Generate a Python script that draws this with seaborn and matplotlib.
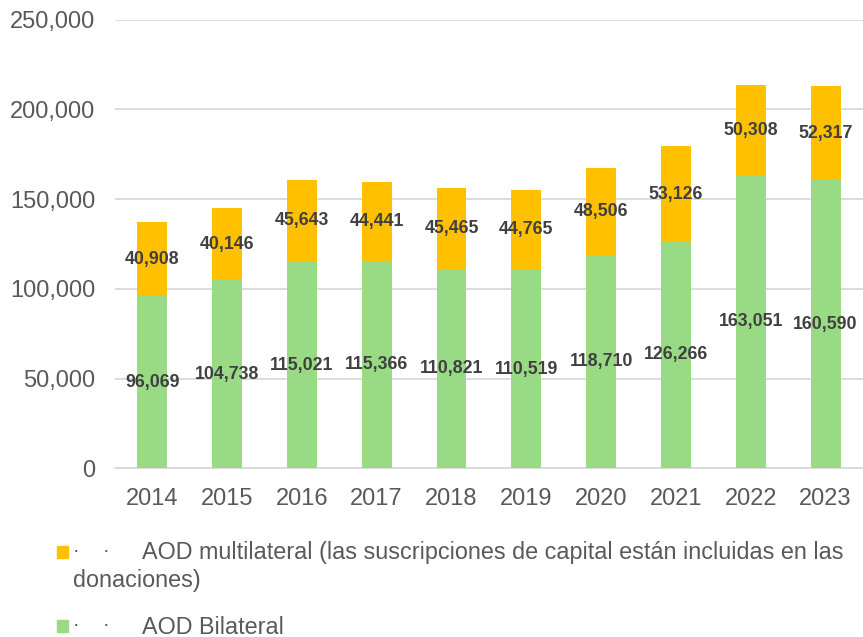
import numpy as np
import pandas as pd
import matplotlib
matplotlib.use("Agg")
import matplotlib.pyplot as plt
from matplotlib.patches import Rectangle
from matplotlib.ticker import FuncFormatter
import seaborn as sns

# ── data ──────────────────────────────────────────────
years        = ["2014", "2015", "2016", "2017", "2018",
                "2019", "2020", "2021", "2022", "2023"]
bilateral    = [96069, 104738, 115021, 115366, 110821,
                110519, 118710, 126266, 163051, 160590]
multilateral = [40908, 40146, 45643, 44441, 45465,
                44765, 48506, 53126, 50308, 52317]
legend_multi = "AOD multilateral (las suscripciones de capital están incluidas en las"
legend_multi2 = "donaciones)"
legend_bi    = "AOD Bilateral"

df = pd.DataFrame({"year": years, "bilateral": bilateral,
                   "multilateral": multilateral})
df["total"] = df["bilateral"] + df["multilateral"]

C_MULTI = "#FFC000"
C_BI    = "#99DB84"
C_TXT   = "#595959"
C_LBL   = "#404040"

sns.set_style("white")
plt.rcParams["font.family"] = ["Liberation Sans", "DejaVu Sans"]

fig = plt.figure(figsize=(8.63, 6.37), dpi=100)
ax = fig.add_axes([0.133, 0.265, 0.867, 0.704])

# stacked: total in orange, bilateral drawn over it in green
sns.barplot(data=df, x="year", y="total", color=C_MULTI, width=0.4,
            saturation=1, linewidth=0, ax=ax, zorder=3)
sns.barplot(data=df, x="year", y="bilateral", color=C_BI, width=0.4,
            saturation=1, linewidth=0, ax=ax, zorder=3)

for i, (b, m) in enumerate(zip(bilateral, multilateral)):
    ax.text(i, b / 2, f"{b:,}", ha="center", va="center",
            fontsize=12.8, fontweight="bold", color=C_LBL, zorder=5)
    ax.text(i, b + m / 2, f"{m:,}", ha="center", va="center",
            fontsize=12.8, fontweight="bold", color=C_LBL, zorder=5)

ax.set_ylim(0, 250000)
ax.set_xlim(-0.5, 9.5)
ax.set_yticks(np.arange(0, 250001, 50000))
ax.yaxis.set_major_formatter(FuncFormatter(lambda v, p: f"{int(v):,}"))
ax.grid(axis="y", color="#D9D9D9", lw=1.3, zorder=0)
ax.set_axisbelow(True)
for s in ["top", "right", "left"]:
    ax.spines[s].set_visible(False)
ax.spines["bottom"].set_color("#D9D9D9")
ax.spines["bottom"].set_linewidth(1.3)
ax.tick_params(axis="both", length=0, labelsize=17, labelcolor=C_TXT)
ax.tick_params(axis="y", pad=14)
ax.tick_params(axis="x", pad=14)
ax.set_xlabel("")
ax.set_ylabel("")

# legend drawn by hand, like the source
W, H = 863, 637
def fx(px): return px / W
def fy(py): return 1 - py / H

for ypx, col in [(552, C_MULTI), (626, C_BI)]:
    fig.patches.append(Rectangle((fx(57), fy(ypx + 6)), 11 / W, 12 / H,
                                 transform=fig.transFigure, color=col))
    fig.text(fx(73), fy(ypx), "·", fontsize=14, color=C_TXT, va="center")
    fig.text(fx(103), fy(ypx), "·", fontsize=14, color=C_TXT, va="center")

fig.text(fx(142), fy(553), legend_multi, fontsize=16.8, color=C_TXT, va="center")
fig.text(fx(73), fy(580), legend_multi2, fontsize=16.8, color=C_TXT, va="center")
fig.text(fx(142), fy(627), legend_bi, fontsize=16.8, color=C_TXT, va="center")

fig.savefig("out.png", dpi=100)
